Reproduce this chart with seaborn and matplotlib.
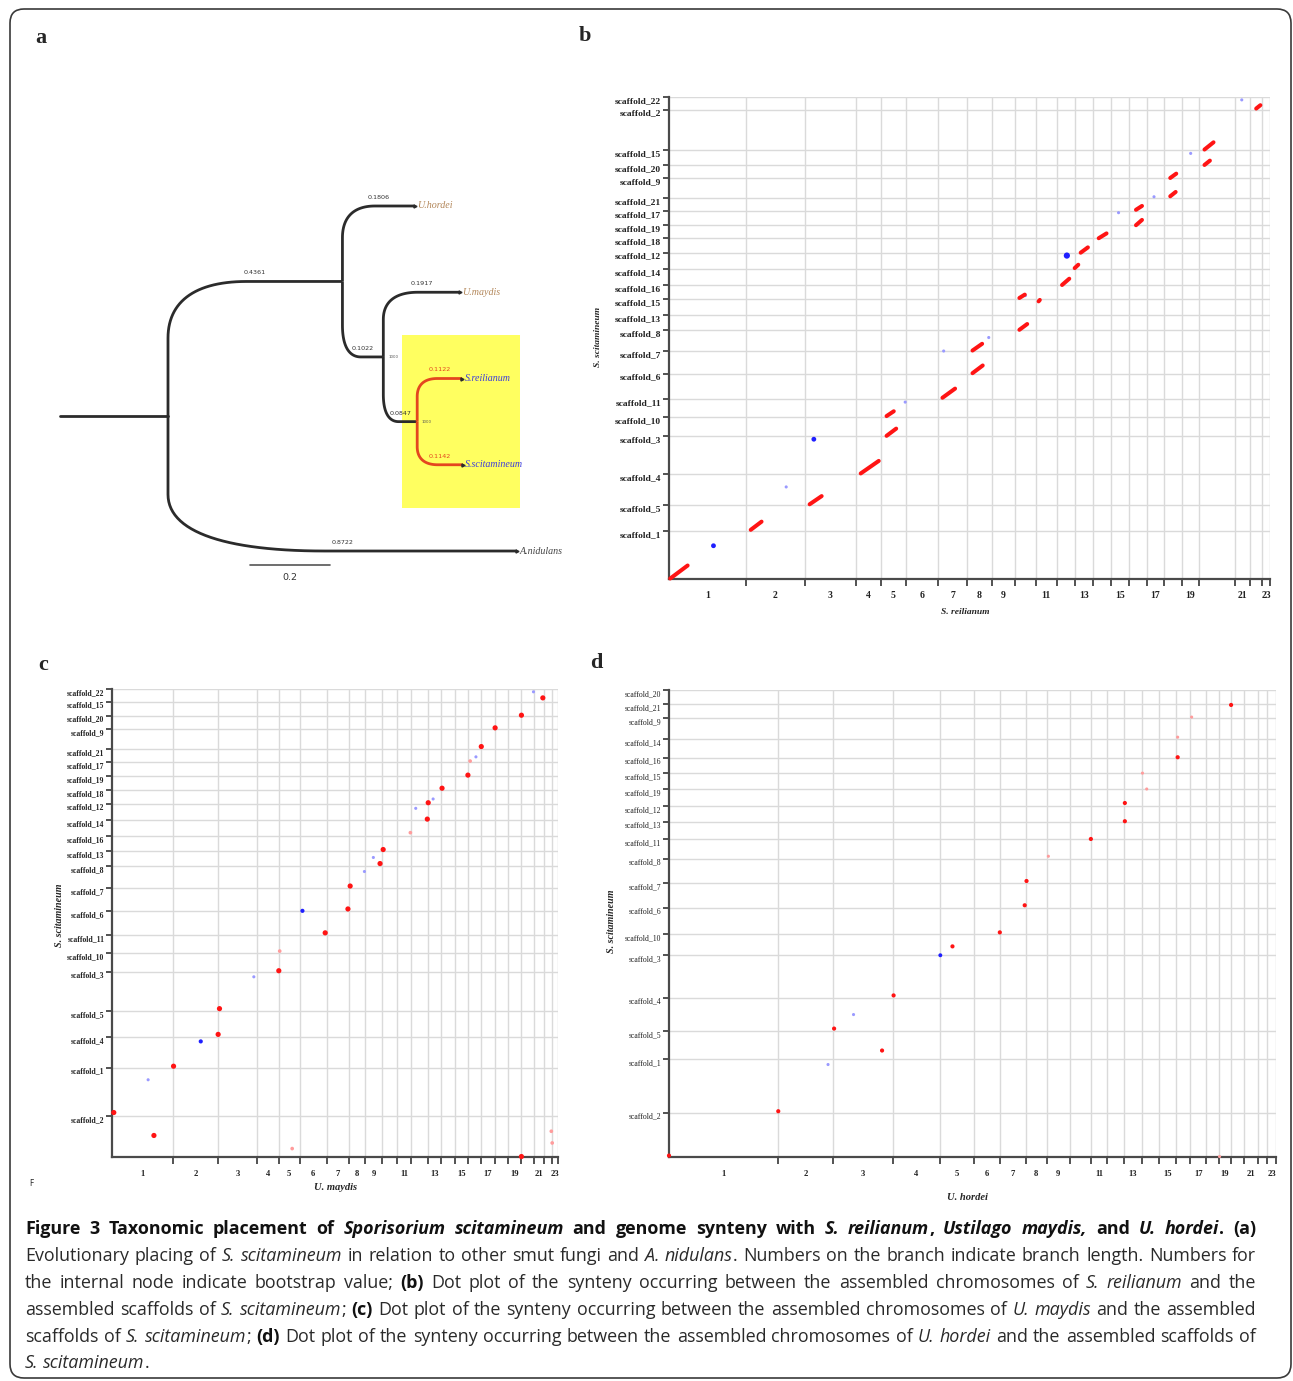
import numpy as np
import pandas as pd
import matplotlib
matplotlib.use("Agg")
import matplotlib.pyplot as plt
import seaborn as sns
from matplotlib.patches import FancyBboxPatch, Rectangle
from matplotlib.transforms import IdentityTransform

# ---------------------------------------------------------------- data
# (a) phylogenetic tree
tree_parent = ["root", "n1", "n1", "n2", "n2", "n3", "n3", "root"]
tree_child = ["n1", "U.hordei", "n2", "U.maydis", "n3", "S.reilianum", "S.scitamineum", "A.nidulans"]
tree_length = [0.4361, 0.1806, 0.1022, 0.1917, 0.0847, 0.1122, 0.1142, 0.8722]
tree_tips = ["U.hordei", "U.maydis", "S.reilianum", "S.scitamineum", "A.nidulans"]
tree_bootstrap_nodes = ["n2", "n3"]
tree_bootstrap_values = ["1000", "1000"]
tree_root_stem = 0.27
tree_scale_bar = 0.2

# x-axis chromosomes (relative lengths, % of concatenated genome)
chrom_tick_labels = ["1", "2", "3", "4", "5", "6", "7", "8", "9", "", "11", "", "13", "",
                     "15", "", "17", "", "19", "", "21", "", "23"]
b_chrom_len = [12.8, 9.8, 8.5, 4.2, 4.1, 5.4, 4.8, 4.1, 3.8, 3.5, 3.5, 3.1, 3.0, 3.0,
               3.0, 2.9, 2.9, 2.9, 2.9, 6.0, 2.5, 2.0, 1.3]
c_chrom_len = [13.7, 10.1, 8.7, 4.9, 4.7, 6.0, 5.0, 3.6, 3.9, 3.2, 3.3, 3.8, 2.8, 3.1,
               3.0, 2.9, 3.1, 3.0, 3.0, 2.8, 2.3, 1.8, 1.3]
d_chrom_len = [17.9, 9.2, 9.8, 7.7, 5.7, 4.3, 4.2, 3.4, 3.8, 3.6, 2.5, 2.8, 3.0, 2.9,
               2.8, 2.3, 2.6, 2.1, 2.0, 2.2, 2.2, 1.5, 1.5]

# y-axis scaffolds (bottom to top, relative lengths)
b_scaffolds = ["scaffold_1", "scaffold_5", "scaffold_4", "scaffold_3", "scaffold_10", "scaffold_11",
               "scaffold_6", "scaffold_7", "scaffold_8", "scaffold_13", "scaffold_15", "scaffold_16",
               "scaffold_14", "scaffold_12", "scaffold_18", "scaffold_19", "scaffold_17", "scaffold_21",
               "scaffold_9", "scaffold_20", "scaffold_15", "scaffold_2", "scaffold_22"]
b_scaffold_len = [10.0, 5.3, 6.4, 8.0, 3.9, 3.8, 5.2, 4.6, 4.5, 3.1, 3.3, 2.9, 3.3, 3.4, 3.0,
                  2.7, 2.9, 2.8, 4.1, 2.7, 3.1, 8.4, 2.6]
c_scaffolds = ["scaffold_2", "scaffold_1", "scaffold_4", "scaffold_5", "scaffold_3", "scaffold_10",
               "scaffold_11", "scaffold_6", "scaffold_7", "scaffold_8", "scaffold_13", "scaffold_16",
               "scaffold_14", "scaffold_12", "scaffold_18", "scaffold_19", "scaffold_17", "scaffold_21",
               "scaffold_9", "scaffold_20", "scaffold_15", "scaffold_22"]
c_scaffold_len = [8.8, 10.3, 6.6, 5.5, 8.4, 4.0, 3.8, 5.2, 4.9, 4.7, 3.2, 3.2, 3.4, 3.5, 2.9,
                  3.0, 2.9, 2.9, 4.3, 2.8, 3.0, 2.7]
d_scaffolds = ["scaffold_2", "scaffold_1", "scaffold_5", "scaffold_4", "scaffold_3", "scaffold_10",
               "scaffold_6", "scaffold_7", "scaffold_8", "scaffold_11", "scaffold_13", "scaffold_12",
               "scaffold_19", "scaffold_15", "scaffold_16", "scaffold_14", "scaffold_9", "scaffold_21",
               "scaffold_20"]
d_scaffold_len = [9.5, 11.5, 5.9, 7.2, 9.1, 4.5, 5.7, 5.2, 5.3, 4.2, 3.7, 3.4, 3.5, 3.5, 3.3,
                  4.0, 4.4, 3.0, 3.1]

# (b) forward synteny blocks (start/end on both genomes, %)
b_block_x0 = [0.2, 13.6, 23.4, 31.9, 36.2, 36.2, 45.5, 50.5, 50.5, 58.3, 58.3, 61.5, 65.4, 67.5,
              68.5, 71.5, 77.7, 77.7, 83.4, 83.4, 89.1, 89.1, 97.7]
b_block_x1 = [3.1, 15.4, 25.4, 34.9, 37.8, 37.4, 47.6, 52.2, 52.1, 59.6, 59.2, 61.7, 66.6, 68.1,
              69.7, 72.8, 78.7, 78.7, 84.3, 84.4, 90.0, 90.6, 98.4]
b_block_y0 = [0.1, 10.2, 15.5, 21.9, 29.7, 33.8, 37.6, 42.7, 47.4, 51.7, 58.3, 57.6, 61.0, 64.5,
              67.7, 70.7, 73.4, 76.6, 79.4, 83.2, 85.9, 89.1, 97.6]
b_block_y1 = [2.8, 11.9, 17.2, 24.5, 31.2, 34.8, 39.5, 44.3, 48.8, 52.9, 59.0, 57.9, 62.3, 65.2,
              68.8, 71.7, 74.5, 77.4, 80.3, 84.1, 86.8, 90.6, 98.3]
# (b) reverse matches (blue)
b_rev_x = [7.4, 19.5, 24.1, 39.3, 45.7, 53.2, 59.3, 66.2, 69.6, 74.8, 80.7, 86.8, 95.3]
b_rev_y = [6.9, 19.1, 29.0, 36.7, 47.3, 50.1, 58.8, 67.1, 68.8, 76.0, 79.3, 88.3, 99.4]
b_rev_strength = ["mid", "weak", "mid", "weak", "weak", "weak", "weak", "strong", "weak",
                  "weak", "weak", "weak", "weak"]

# (c) matches
c_fwd_x = [0.4, 9.4, 13.8, 23.8, 24.1, 37.4, 37.6, 40.4, 47.8, 52.9, 53.4, 60.1, 60.8, 66.9,
           70.7, 70.9, 74.0, 79.8, 80.3, 82.8, 85.9, 91.8, 96.6, 91.8, 98.5, 98.7]
c_fwd_y = [9.5, 4.6, 19.4, 26.2, 31.7, 39.8, 44.0, 1.8, 47.9, 53.0, 57.9, 62.7, 65.7, 69.3,
           72.2, 75.7, 78.8, 81.6, 84.6, 87.7, 91.7, 94.4, 98.1, 0.1, 5.5, 3.0]
c_fwd_strength = ["strong", "strong", "strong", "strong", "strong", "strong", "weak", "weak",
                  "strong", "strong", "strong", "strong", "strong", "weak", "strong", "strong",
                  "strong", "strong", "weak", "strong", "strong", "strong", "strong", "strong",
                  "weak", "weak"]
c_rev_x = [8.1, 19.9, 31.8, 42.7, 56.6, 58.6, 68.1, 72.0, 81.6, 94.5]
c_rev_y = [16.5, 24.7, 38.5, 52.6, 61.0, 64.0, 74.5, 76.5, 85.5, 99.4]
c_rev_strength = ["weak", "strong", "weak", "strong", "weak", "weak", "weak", "weak", "weak", "weak"]

# (d) matches
d_fwd_x = [0.0, 18.0, 27.2, 35.1, 37.0, 46.7, 54.5, 58.6, 58.9, 62.5, 69.5, 75.1, 75.1, 78.7,
           78.0, 83.8, 83.8, 86.1, 92.6, 90.7]
d_fwd_y = [0.3, 9.8, 27.5, 22.8, 34.6, 45.1, 48.1, 53.9, 59.1, 64.4, 68.1, 71.9, 75.8, 78.8,
           82.2, 85.6, 89.9, 94.2, 96.8, 0.1]
d_fwd_strength = ["strong", "strong", "strong", "strong", "strong", "strong", "strong", "strong",
                  "strong", "weak", "strong", "strong", "strong", "weak", "weak", "strong",
                  "weak", "weak", "strong", "weak"]
d_rev_x = [26.2, 30.4, 44.7]
d_rev_y = [19.8, 30.5, 43.2]
d_rev_strength = ["weak", "weak", "strong"]

# ---------------------------------------------------------------- setup
sns.set_theme(style="white")
plt.rcParams['font.family'] = ['Liberation Serif', 'DejaVu Serif']
plt.rcParams['axes.linewidth'] = 1.6

W, H = 1293, 1381
fig = plt.figure(figsize=(W / 100, H / 100), dpi=100)
fig.patch.set_facecolor("white")


def rect(l, t, r, b):
    return [l / W, 1 - b / H, (r - l) / W, (b - t) / H]


def ftext(x, y, s, **kw):
    return fig.text(x / W, 1 - y / H, s, **kw)


# outer rounded frame
frame = FancyBboxPatch((10, H - 1378), 1281, 1369, boxstyle="round,pad=0,rounding_size=14",
                       transform=IdentityTransform(), fill=False, ec="#3a3a3a", lw=1.2)
fig.add_artist(frame)

# panel letters
for lab, (x, y) in zip("abcd", [(41, 38), (585, 36), (43, 665), (596, 663)]):
    ftext(x, y, lab, fontsize=16, fontweight="bold", ha="center", va="center")

# ---------------------------------------------------------------- (a) tree
ax_a = fig.add_axes(rect(30, 180, 570, 590))
ax_a.set_xlim(-0.345, 1.005)
ax_a.set_ylim(4.452, -0.3014)
ax_a.axis("off")

node_x = {"root": 0.0}
for p, c, L in zip(tree_parent, tree_child, tree_length):
    node_x[c] = node_x[p] + L
node_y = {t: i for i, t in enumerate(tree_tips)}


def get_y(n):
    if n in node_y:
        return node_y[n]
    kids = [c for p, c in zip(tree_parent, tree_child) if p == n]
    node_y[n] = float(np.mean([get_y(k) for k in kids]))
    return node_y[n]


get_y("root")

# yellow highlight box
ax_a.add_patch(Rectangle((0.585, 1.496), 0.295, 2.004, facecolor="#ffff60", edgecolor="none", zorder=0))

red_children = {"S.reilianum", "S.scitamineum"}


def bezier(p0, p1, p2, p3, n=30):
    t = np.linspace(0, 1, n)[:, None]
    return ((1 - t) ** 3) * p0 + 3 * ((1 - t) ** 2) * t * p1 + 3 * (1 - t) * t * t * p2 + t ** 3 * p3


for p, c, L in zip(tree_parent, tree_child, tree_length):
    px, py = node_x[p], node_y[p]
    cx, cy = node_x[c], node_y[c]
    s = np.sign(cy - py)
    rx = 0.45 * L
    ry = 0.42 * abs(cy - py)
    P0 = np.array([px, cy - s * ry])
    curve = bezier(P0, np.array([px, cy - s * ry * 0.35]), np.array([px + rx * 0.35, cy]),
                   np.array([px + rx, cy]))
    xs = np.concatenate([[px], curve[:, 0], [cx]])
    ys = np.concatenate([[py], curve[:, 1], [cy]])
    col = "#e4461f" if c in red_children else "#2b2b2b"
    ax_a.plot(xs, ys, color=col, lw=2.0, solid_capstyle="butt", zorder=2)
    lab_col = "#e4461f" if c in red_children else "#333333"
    ax_a.text((px + cx) / 2, cy - 0.07, f"{L:.4f}", fontsize=4.6, color=lab_col,
              ha="center", va="bottom", family="DejaVu Sans")

# root stem
ax_a.plot([-tree_root_stem, 0], [node_y["root"]] * 2, color="#2b2b2b", lw=2.0, zorder=2)

for n, v in zip(tree_bootstrap_nodes, tree_bootstrap_values):
    ax_a.text(node_x[n] + 0.012, node_y[n], v, fontsize=2.8, color="#555555", ha="left",
              va="center", family="DejaVu Sans")

tip_colors = {"U.hordei": "#b3875a", "U.maydis": "#b3875a", "S.reilianum": "#3c3cdc",
              "S.scitamineum": "#3c3cdc", "A.nidulans": "#444444"}
for t in tree_tips:
    ax_a.plot([node_x[t]], [node_y[t]], marker=">", ms=2.2, color="#2b2b2b", zorder=3)
    ax_a.text(node_x[t] + 0.006, node_y[t], t, fontsize=7.2, style="italic",
              color=tip_colors[t], ha="left", va="center")

# scale bar
ax_a.plot([0.205, 0.205 + tree_scale_bar], [4.162, 4.162], color="#555555", lw=1.2)
ax_a.text(0.305, 4.26, f"{tree_scale_bar}", fontsize=6.8, ha="center", va="top",
          family="DejaVu Sans", color="#333333")


# ---------------------------------------------------------------- dot plots
RED = "#ff1414"
RED_W = "#ff9c9c"
BLUE = "#1f1fff"
BLUE_W = "#9a9aff"


def dotplot(ax, x_len, y_len, y_names, xfs, yfs, yweight, xweight):
    xb = np.concatenate([[0], np.cumsum(x_len)])
    yb = np.concatenate([[0], np.cumsum(y_len)])
    ax.set_xlim(0, xb[-1])
    ax.set_ylim(0, yb[-1])
    ax.set_xticks(xb[1:])
    ax.set_xticklabels([])
    ax.set_xticks((xb[:-1] + xb[1:]) / 2, minor=True)
    ax.set_xticklabels(chrom_tick_labels, minor=True, fontsize=xfs, fontweight=xweight,
                       color="#222222")
    ax.set_yticks(yb[1:])
    ax.set_yticklabels(y_names, fontsize=yfs, fontweight=yweight, color="#222222")
    for lab in ax.get_yticklabels():
        lab.set_va("top")
    ax.tick_params(axis="x", which="major", direction="out", length=5, width=1.3,
                   color="#444444", bottom=True)
    ax.tick_params(axis="x", which="minor", length=0, pad=9, bottom=True)
    ax.tick_params(axis="y", which="major", direction="out", length=4, width=1.3,
                   color="#444444", pad=1.5, left=True)
    ax.grid(True, which="major", color="#dadada", lw=1.0)
    ax.set_axisbelow(True)
    for sp in ["top", "right"]:
        ax.spines[sp].set_visible(False)
    for sp in ["left", "bottom"]:
        ax.spines[sp].set_color("#4a4a4a")
        ax.spines[sp].set_linewidth(1.6)
    ax.set_facecolor("white")


def add_points(ax, x, y, color, strength, sizes):
    df = pd.DataFrame({"x": x, "y": y, "strength": strength})
    pal = {"strong": color[0], "mid": color[0], "weak": color[1]}
    sns.scatterplot(data=df, x="x", y="y", hue="strength", palette=pal, size="strength",
                    sizes=sizes, legend=False, edgecolor="none", ax=ax, clip_on=False, zorder=3)


# panel b
ax_b = fig.add_axes(rect(669, 97, 1270, 579))
dotplot(ax_b, b_chrom_len, b_scaffold_len, b_scaffolds, 7, 6.8, "bold", "bold")
seg = pd.DataFrame({
    "block": np.repeat(np.arange(len(b_block_x0)), 2),
    "x": np.ravel(np.column_stack([b_block_x0, b_block_x1])),
    "y": np.ravel(np.column_stack([b_block_y0, b_block_y1])),
})
sns.lineplot(data=seg, x="x", y="y", units="block", estimator=None, sort=False, color=RED,
             lw=2.9, ax=ax_b, legend=False, zorder=4)
for ln in ax_b.get_lines():
    ln.set_solid_capstyle("round")
    ln.set_clip_on(False)
add_points(ax_b, b_rev_x, b_rev_y, (BLUE, BLUE_W), b_rev_strength,
           {"strong": 20, "mid": 12, "weak": 5})
ax_b.set_xlabel("")
ax_b.set_ylabel("")
ftext(965, 612, "S. reilianum", fontsize=6.8, fontweight="bold", style="italic", ha="center", va="center")
ftext(598, 337, "S. scitamineum", fontsize=6.8, fontweight="bold", style="italic", ha="center",
      va="center", rotation=90)

# panel c
ax_c = fig.add_axes(rect(112, 689, 558, 1157))
dotplot(ax_c, c_chrom_len, c_scaffold_len, c_scaffolds, 6.2, 5.6, "bold", "bold")
add_points(ax_c, c_fwd_x, c_fwd_y, (RED, RED_W), c_fwd_strength, {"strong": 14, "weak": 7})
add_points(ax_c, c_rev_x, c_rev_y, (BLUE, BLUE_W), c_rev_strength, {"strong": 9, "weak": 5})
ax_c.set_xlabel("")
ax_c.set_ylabel("")
ftext(336, 1188, "U. maydis", fontsize=7.6, fontweight="bold", style="italic", ha="center", va="center")
ftext(60, 915, "S. scitamineum", fontsize=7.2, fontweight="bold", style="italic", ha="center",
      va="center", rotation=90)
ftext(31, 1184, "F", fontsize=5.5, ha="center", va="center", family="DejaVu Sans")

# panel d
ax_d = fig.add_axes(rect(669, 690, 1276, 1157))
dotplot(ax_d, d_chrom_len, d_scaffold_len, d_scaffolds, 6.2, 5.6, "normal", "bold")
add_points(ax_d, d_fwd_x, d_fwd_y, (RED, RED_W), d_fwd_strength, {"strong": 9, "weak": 5})
add_points(ax_d, d_rev_x, d_rev_y, (BLUE, BLUE_W), d_rev_strength, {"strong": 8, "weak": 5})
ax_d.set_xlabel("")
ax_d.set_ylabel("")
ftext(967, 1198, "U. hordei", fontsize=7.6, fontweight="bold", style="italic", ha="center", va="center")
ftext(611, 921, "S. scitamineum", fontsize=7.2, fontweight="bold", style="italic", ha="center",
      va="center", rotation=90)

# ---------------------------------------------------------------- caption
caption_lines = [
    [("Figure 3 Taxonomic placement of ", "b"), ("Sporisorium scitamineum", "bi"),
     (" and genome synteny with ", "b"), ("S. reilianum", "bi"), (", ", "b"),
     ("Ustilago maydis,", "bi"), (" and ", "b"), ("U. hordei", "bi"), (". (a)", "b")],
    [("Evolutionary placing of ", "r"), ("S. scitamineum", "i"),
     (" in relation to other smut fungi and ", "r"), ("A. nidulans", "i"),
     (". Numbers on the branch indicate branch length. Numbers for", "r")],
    [("the internal node indicate bootstrap value; ", "r"), ("(b)", "b"),
     (" Dot plot of the synteny occurring between the assembled chromosomes of ", "r"),
     ("S. reilianum", "i"), (" and the", "r")],
    [("assembled scaffolds of ", "r"), ("S. scitamineum", "i"), ("; ", "r"), ("(c)", "b"),
     (" Dot plot of the synteny occurring between the assembled chromosomes of ", "r"),
     ("U. maydis", "i"), (" and the assembled", "r")],
    [("scaffolds of ", "r"), ("S. scitamineum", "i"), ("; ", "r"), ("(d)", "b"),
     (" Dot plot of the synteny occurring between the assembled chromosomes of ", "r"),
     ("U. hordei", "i"), (" and the assembled scaffolds of", "r")],
    [("S. scitamineum", "i"), (".", "r")],
]
cap_baselines = [1234, 1261, 1288, 1315, 1342, 1368]
CAP_LEFT, CAP_RIGHT = 25, 1256
CAP_FONT = "Open Sans"

renderer = fig.canvas.get_renderer()


def style_kw(st, size):
    return dict(fontsize=size, family=[CAP_FONT, "DejaVu Sans"],
                fontweight="bold" if "b" in st else "normal",
                style="italic" if "i" in st else "normal",
                color="#111111" if "b" in st else "#2a2a2a")


def line_words(line):
    words = [[]]
    for text, st in line:
        parts = text.split(" ")
        for k, part in enumerate(parts):
            if k > 0:
                words.append([])
            if part:
                words[-1].append((part, st))
    return [w for w in words if w]


def measure(piece, st, size):
    t = fig.text(0, 0, piece, **style_kw(st, size))
    w = t.get_window_extent(renderer).width
    t.remove()
    return w


def space_w(size):
    return measure("a a", "r", size) - measure("aa", "r", size)


cap_size = 16.0
widest = 0
for line in caption_lines[:-1]:
    ws = line_words(line)
    tot = sum(measure(p, st, cap_size) for w in ws for p, st in w)
    tot += (len(ws) - 1) * space_w(cap_size)
    widest = max(widest, tot)
cap_size *= (CAP_RIGHT - CAP_LEFT) * 0.995 / widest

for li, line in enumerate(caption_lines):
    ws = line_words(line)
    widths = [[measure(p, st, cap_size) for p, st in w] for w in ws]
    word_w = [sum(w) for w in widths]
    if li < len(caption_lines) - 1:
        gap = (CAP_RIGHT - CAP_LEFT - sum(word_w)) / (len(ws) - 1)
    else:
        gap = space_w(cap_size)
    x = CAP_LEFT
    for w, pw in zip(ws, widths):
        xx = x
        for (p, st), pwid in zip(w, pw):
            ftext(xx, cap_baselines[li], p, ha="left", va="baseline", **style_kw(st, cap_size))
            xx += pwid
        x += sum(pw) + gap

fig.savefig("out.png", dpi=100, facecolor="white")
